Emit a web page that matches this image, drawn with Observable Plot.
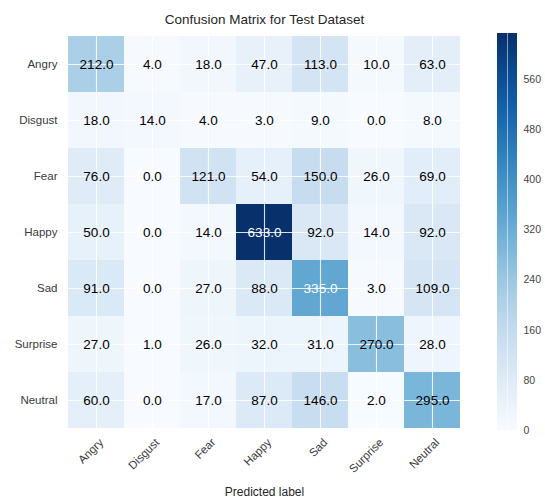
<!DOCTYPE html>
<html>
<head>
<meta charset="utf-8">
<script src="https://cdn.jsdelivr.net/npm/d3@7"></script>
<script src="https://cdn.jsdelivr.net/npm/@observablehq/plot@0.6"></script>
<style>
  html, body { margin: 0; padding: 0; background: #fff; }
  #chart { position: relative; width: 545px; height: 500px; font-family: "Liberation Sans", Arial, sans-serif; }
  #chart svg { position: absolute; top: 0; overflow: visible; }
</style>
</head>
<body>
<div id="chart"></div>
<script>
// Emotion classes (true label rows, predicted label columns)
const labels = ["Angry", "Disgust", "Fear", "Happy", "Sad", "Surprise", "Neutral"];

// Confusion matrix counts, one array per true class
const angry    = [212, 4, 18, 47, 113, 10, 63];
const disgust  = [18, 14, 4, 3, 9, 0, 8];
const fear     = [76, 0, 121, 54, 150, 26, 69];
const happy    = [50, 0, 14, 633, 92, 14, 92];
const sad      = [91, 0, 27, 88, 335, 3, 109];
const surprise = [27, 1, 26, 32, 31, 270, 28];
const neutral  = [60, 0, 17, 87, 146, 2, 295];

const rows = [angry, disgust, fear, happy, sad, surprise, neutral];

// Colorbar tick labels
const colorbarTicks = [0, 80, 160, 240, 320, 400, 480, 560];

const cells = [];
rows.forEach((row, i) => row.forEach((v, j) => cells.push({actual: labels[i], predicted: labels[j], value: v})));

const vmax = d3.max(cells, d => d.value);
const thresh = vmax / 2;

const color = {type: "linear", scheme: "blues", domain: [0, vmax]};
const font = "\"Liberation Sans\", Arial, sans-serif";

const main = Plot.plot({
  width: 480,
  height: 500,
  marginLeft: 65,
  marginRight: 17,
  marginTop: 33,
  marginBottom: 70,
  style: {fontFamily: font, background: "transparent", overflow: "visible"},
  x: {domain: labels, padding: 0, label: null},
  y: {domain: labels, padding: 0, label: null},
  color,
  marks: [
    Plot.cell(cells, {x: "predicted", y: "actual", fill: "value", inset: 0}),
    Plot.ruleX(labels, {x: d => d, stroke: "white", strokeWidth: 1.1, strokeOpacity: 0.85}),
    Plot.ruleY(labels, {y: d => d, stroke: "white", strokeWidth: 1.1, strokeOpacity: 0.85}),
    Plot.text(cells, {
      x: "predicted", y: "actual",
      text: d => d.value.toFixed(1),
      fill: d => d.value > thresh ? "white" : "black",
      fontSize: 13.5
    }),
    Plot.axisY({tickSize: 0, tickPadding: 8, fontSize: 11.5, color: "#3a3a3a", label: null}),
    Plot.axisX({tickSize: 0, tickPadding: 10, dx: 5, tickRotate: -45, fontSize: 11.5, color: "#3a3a3a", label: null}),
    Plot.text(["Confusion Matrix for Test Dataset"], {
      frameAnchor: "top", dy: -10, lineAnchor: "bottom", fontSize: 13.5, fill: "#262626"
    }),
    Plot.text(["Predicted label"], {
      frameAnchor: "bottom", dy: 62, lineAnchor: "middle", fontSize: 12, fill: "#262626"
    })
  ]
});
main.style.left = "0px";

// Vertical colorbar: thin slices spanning the color domain
const steps = d3.range(0, Math.ceil(vmax));
const bar = Plot.plot({
  width: 48,
  height: 500,
  marginLeft: 0,
  marginRight: 28,
  marginTop: 33,
  marginBottom: 70,
  style: {fontFamily: font, background: "transparent", overflow: "visible"},
  x: {domain: [0, 1], axis: null},
  y: {domain: [0, vmax], axis: null},
  color,
  marks: [
    Plot.rect(steps, {x1: 0, x2: 1, y1: d => d, y2: d => Math.min(d + 1, vmax), fill: d => d + 0.5, shapeRendering: "crispEdges"}),
    Plot.ruleX([0.5], {stroke: "white", strokeWidth: 1, strokeOpacity: 0.5}),
    Plot.axisY(colorbarTicks, {anchor: "right", tickSize: 0, tickPadding: 6, fontSize: 10.5, color: "#444", label: null})
  ]
});
bar.style.left = "497px";

const chart = document.getElementById("chart");
chart.append(main, bar);
</script>
</body>
</html>
